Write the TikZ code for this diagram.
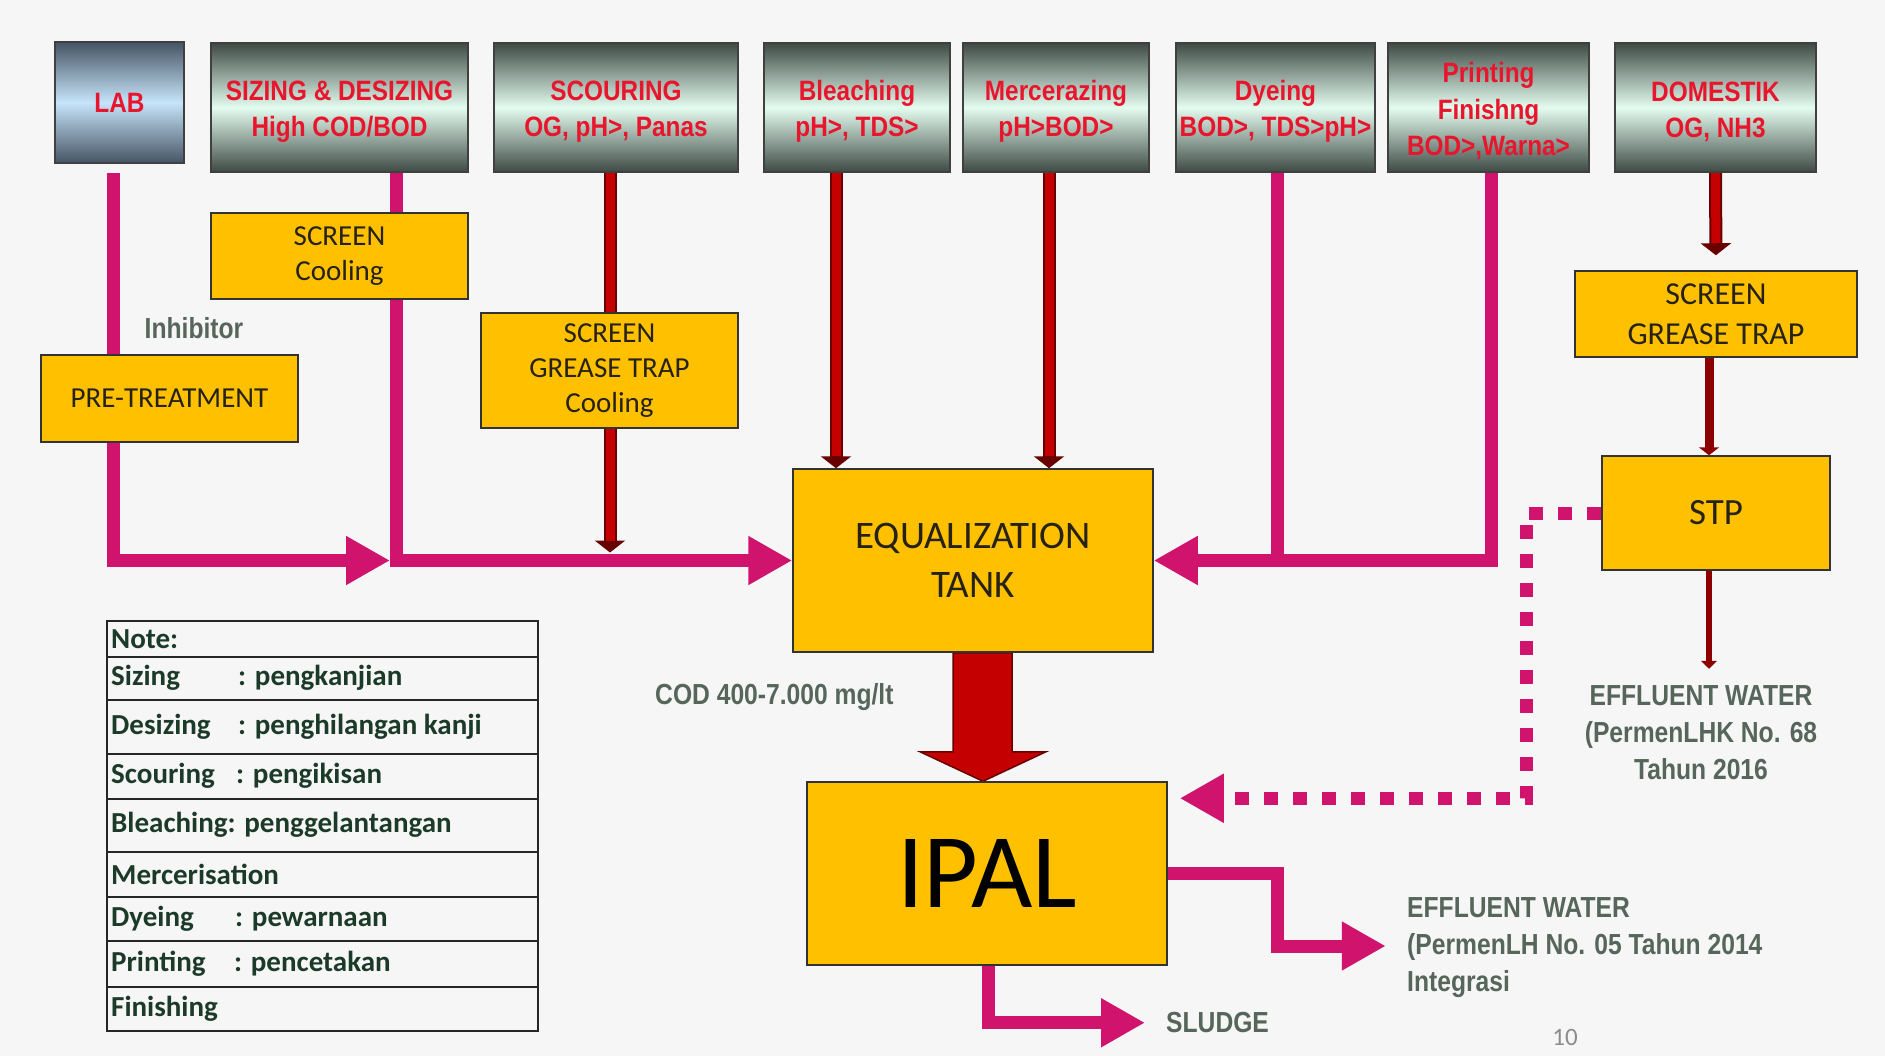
\documentclass[tikz,border=0pt]{standalone}
\usepackage{fontspec}
\setmainfont{Carlito}
\newfontfamily\narrowfont[FakeStretch=0.87]{Liberation Sans}
\newfontfamily\graynarrow[FakeStretch=0.85]{Liberation Sans}
\usetikzlibrary{arrows.meta,calc}
\pgfdeclarelayer{back}
\pgfdeclarelayer{lines}
\pgfsetlayers{back,lines,main}
\newcommand\toppadding{\rule{0pt}{28pt}}
\definecolor{bgc}{RGB}{246,246,246}
\definecolor{ylw}{RGB}{255,192,0}
\definecolor{pnk}{RGB}{208,20,110}
\definecolor{dred}{RGB}{196,0,0}
\definecolor{dredd}{RGB}{105,0,0}
\definecolor{thinred}{RGB}{140,0,0}
\definecolor{txtred}{RGB}{232,22,45}
\definecolor{boxdark}{RGB}{62,74,68}
\definecolor{boxlight}{RGB}{228,252,240}
\definecolor{labdark}{RGB}{70,84,100}
\definecolor{lablight}{RGB}{198,228,250}
\definecolor{gtxt}{RGB}{86,102,90}
\definecolor{ytxt}{RGB}{38,34,22}
\definecolor{ntxt}{RGB}{28,58,40}
\tikzset{
  procbox/.style={draw=black!75, line width=1.5pt, top color=boxdark, bottom color=boxdark, middle color=boxlight,
    text=txtred, align=center, inner sep=0pt, font=\narrowfont\bfseries\fontsize{28}{36.5}\selectfont},
  labbox/.style={procbox, top color=labdark, bottom color=labdark, middle color=lablight},
  ybox/.style={draw=black!80, line width=1.5pt, fill=ylw, text=ytxt, align=center, inner sep=0pt,
    font=\fontsize{29}{35}\selectfont},
  pinkline/.style={draw=pnk, line width=13pt},
  pinktip/.style={-{Triangle[length=44pt,width=46pt]}},
  darkline/.style={draw=dredd, line width=13pt},
  redcore/.style={draw=dred, line width=9pt},
  smalltip/.style={-{Triangle[length=12pt,width=30pt]}},
  gtext/.style={text=gtxt, font=\graynarrow\bfseries\fontsize{29}{37}\selectfont, inner sep=0pt},
  notetext/.style={text=ntxt, font=\bfseries\fontsize{29}{32}\selectfont, anchor=west, inner sep=0pt},
  tbl/.style={draw=black!85, line width=2.5pt}
}
\begin{document}
\begin{tikzpicture}[x=1pt,y=-1pt]
\useasboundingbox (0,0) rectangle (1885,1056);
\begin{pgfonlayer}{back}
\fill[bgc] (0,0) rectangle (1885,1056);
\end{pgfonlayer}

% top process boxes
\node[labbox, minimum width=129pt, minimum height=121pt] (lab) at (119.5,102.5) {LAB};
\node[procbox, minimum width=257pt, minimum height=129pt] (siz) at (339.5,107.5) {\toppadding SIZING \& DESIZING\\High COD/BOD};
\node[procbox, minimum width=244pt, minimum height=129pt] (sco) at (616,107.5) {\toppadding SCOURING\\OG, pH>, Panas};
\node[procbox, minimum width=186pt, minimum height=129pt] (ble) at (857,107.5) {\toppadding Bleaching\\pH>, TDS>};
\node[procbox, minimum width=186pt, minimum height=129pt] (mer) at (1056,107.5) {\toppadding Mercerazing\\pH>BOD>};
\node[procbox, minimum width=199pt, minimum height=129pt] (dye) at (1275.5,107.5) {\toppadding Dyeing\\BOD>, TDS>pH>};
\node[procbox, minimum width=201pt, minimum height=129pt] (pri) at (1488.5,107.5) {\toppadding Printing\\Finishng\\BOD>,Warna>};
\node[procbox, minimum width=201pt, minimum height=129pt] (dom) at (1715.5,107.5) {\toppadding DOMESTIK\\OG, NH3};

% yellow boxes
\node[ybox, minimum width=257pt, minimum height=86pt] (scr1) at (339.5,256) {SCREEN\\Cooling};
\node[ybox, minimum width=257pt, minimum height=87pt] (pre) at (169.5,398.5) {PRE-TREATMENT};
\node[ybox, minimum width=257pt, minimum height=115pt] (scr2) at (609.5,370.5) {SCREEN\\GREASE TRAP\\Cooling};
\node[ybox, font=\fontsize{32}{40}\selectfont, minimum width=282pt, minimum height=86pt] (scr3) at (1716,314) {SCREEN\\GREASE TRAP};
\node[ybox, font=\fontsize{37}{44}\selectfont, minimum width=228pt, minimum height=114pt] (stp) at (1716,513) {STP};
\node[ybox, font=\fontsize{39}{49}\selectfont, minimum width=360pt, minimum height=183pt] (eq) at (973,560.5) {EQUALIZATION\\TANK};
\node[ybox, font=\fontsize{106}{110}\selectfont, text=black, minimum width=360pt, minimum height=183pt] (ipal) at (987,873.5) {IPAL};

% labels
\node[gtext] (inh) at (194,328) {Inhibitor};
\node[gtext, anchor=west] (cod) at (655,697) {COD 400-7.000 mg/lt};
\node[gtext, align=center] (eff1) at (1701,733) {EFFLUENT WATER\\(PermenLHK No. 68\\Tahun 2016};
\node[gtext, align=left, anchor=west] (eff2) at (1407,948) {EFFLUENT WATER\\(PermenLH No. 05 Tahun 2014\\Integrasi};
\node[gtext, anchor=west] (sludge) at (1166,1023) {SLUDGE};
\node[text=black!45, font=\fontsize{25}{30}\selectfont, inner sep=0pt] (pg) at (1565,1037) {10};

% note table
\draw[tbl] (107,621) rectangle (538,1031);
\foreach \yy in {657,700,754,799,852,897,941,987} \draw[tbl] (107,\yy) -- (538,\yy);
\node[notetext] (n0) at (111,639) {Note:};
\node[notetext] (n1) at (111,678) {\makebox[127pt][l]{Sizing}: pengkanjian};
\node[notetext] (n2) at (111,727) {\makebox[127pt][l]{Desizing}: penghilangan kanji};
\node[notetext] (n3) at (111,776) {\makebox[125pt][l]{Scouring}: pengikisan};
\node[notetext] (n4) at (111,825) {Bleaching: penggelantangan};
\node[notetext] (n5) at (111,874) {Mercerisation};
\node[notetext] (n6) at (111,919) {\makebox[124pt][l]{Dyeing}: pewarnaan};
\node[notetext] (n7) at (111,964) {\makebox[123pt][l]{Printing}: pencetakan};
\node[notetext] (n8) at (111,1009) {Finishing};

% connectors
\begin{pgfonlayer}{lines}
\coordinate (jL) at ($(siz.south)+(56.5,0)$);
\coordinate (jS) at (jL |- eq.west);
\draw[pinkline, pinktip] ([xshift=-6pt,yshift=-9pt]lab.south) |- ([xshift=-6pt]jS);
\draw[pinkline, pinktip] (jL) |- (eq.west);

\coordinate (scoB) at ($(sco.south)+(-6,0)$);
\coordinate (scoE) at ($(scoB |- eq.west)+(0,-8)$);
\draw[darkline, smalltip] (scoB) -- (scoE);
\draw[redcore, shorten >=12pt] (scoB) -- (scoE);

\coordinate (bleB) at ($(ble.south)+(-21,0)$);
\draw[darkline, smalltip] (bleB) -- (bleB |- eq.north);
\draw[redcore, shorten >=12pt] (bleB) -- (bleB |- eq.north);
\coordinate (merB) at ($(mer.south)+(-7,0)$);
\draw[darkline, smalltip] (merB) -- (merB |- eq.north);
\draw[redcore, shorten >=12pt] (merB) -- (merB |- eq.north);

\coordinate (dyeB) at ($(dye.south)+(2,0)$);
\draw[pinkline] (dyeB) -- (dyeB |- eq.east);
\coordinate (priB) at ($(pri.south)+(3,0)$);
\draw[pinkline, pinktip] (priB) |- (eq.east);

\draw[darkline, smalltip, shorten >=15pt] (dom.south) -- (scr3.north);
\draw[redcore, shorten >=27pt] (dom.south) -- (scr3.north);

\coordinate (scr3B) at ($(scr3.south)+(-7,0)$);
\draw[draw=thinred, line width=9pt, -{Triangle[length=8pt,width=20pt]}] (scr3B) -- (scr3B |- stp.north);
\coordinate (stpB) at ($(stp.south)+(-7,0)$);
\coordinate (effT) at ($(stpB)+(0,98)$);
\draw[draw=thinred, line width=6pt, -{Triangle[length=8pt,width=16pt]}] (stpB) -- (effT);

\coordinate (dotT) at ($(ipal.north east)+(12,17)$);
\draw[pinkline, dash pattern=on 14pt off 15pt, pinktip] (stp.west) -- ++(-75,0) |- (dotT);

\coordinate (e2T) at ($(ipal.east)+(218,72.5)$);
\draw[pinkline, pinktip] (ipal.east) -- ++(110,0) |- (e2T);
\coordinate (slT) at ($(ipal.south)+(158,57)$);
\draw[pinkline, pinktip] ($(ipal.south)+(1,0)$) |- (slT);

\draw[fill=dred, draw=dredd, line width=1.5pt, line join=miter]
  ($(eq.south)+(-20,0)$) -- ++(0,99) -- ++(-33,0) -- ($(ipal.north)+(-4,0)$)
  -- ($(eq.south)+(73,99)$) -- ++(-34,0) -- ($(eq.south)+(39,0)$) -- cycle;
\end{pgfonlayer}
\end{tikzpicture}
\end{document}
